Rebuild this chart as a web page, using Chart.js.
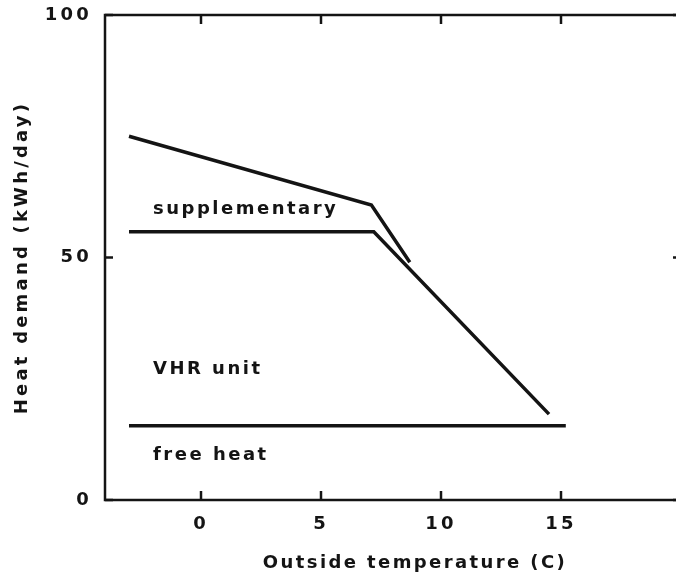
<!DOCTYPE html>
<html><head><meta charset="utf-8">
<script src="https://cdn.jsdelivr.net/npm/chart.js@4.4.0/dist/chart.umd.min.js"></script>
<style>html,body{margin:0;padding:0;background:#fff;overflow:hidden}#wrap{width:681px;height:575px;position:relative}</style>
</head><body><div id="wrap"><canvas id="c"></canvas></div>
<script>
// ---- data ----
const xTickValues = [0, 5, 10, 15];
const yTickValues = [0, 50, 100];
const totalTemp = [-3, 7.1, 8.7];
const totalDemand = [75, 60.8, 49];
const vhrTemp = [-3, 7.2, 14.5];
const vhrDemand = [55.3, 55.3, 17.7];
const freeTemp = [-3, 15.2];
const freeDemand = [15.3, 15.3];
const regionLabels = ['supplementary', 'VHR unit', 'free heat'];
const regionLabelTemp = [-2, -2, -2];
const regionLabelDemand = [60, 27, 9.3];
const xTitle = 'Outside temperature (C)';
const yTitle = 'Heat demand (kWh/day)';

// ---- style ----
const INK = '#141414';
const FONT = '"DejaVu Sans", sans-serif';
const pts = (xs, ys) => xs.map((v, i) => ({x: v, y: ys[i]}));

const spacing = {
  id: 'spacing',
  beforeDraw(chart) { chart.ctx.letterSpacing = '3.2px'; }
};

const frame = {
  id: 'frame',
  afterDatasetsDraw(chart) {
    const {ctx, chartArea: a, scales: {x, y}} = chart;
    ctx.save();
    ctx.strokeStyle = INK;
    ctx.lineWidth = 2.5;
    ctx.strokeRect(a.left, a.top, a.right - a.left, a.bottom - a.top);
    const seg = (x1, y1, x2, y2) => { ctx.beginPath(); ctx.moveTo(x1, y1); ctx.lineTo(x2, y2); ctx.stroke(); };
    xTickValues.forEach(v => {
      const px = x.getPixelForValue(v);
      seg(px, a.bottom, px, a.bottom - 9);
      seg(px, a.top, px, a.top + 9);
    });
    yTickValues.forEach(v => {
      const py = y.getPixelForValue(v);
      seg(a.left, py, a.left + 8, py);
      seg(a.right, py, a.right - 8, py);
    });
    // region labels
    ctx.fillStyle = INK;
    ctx.font = 'bold 18px ' + FONT;
    ctx.letterSpacing = '2.5px';
    ctx.textAlign = 'left';
    ctx.textBaseline = 'middle';
    regionLabels.forEach((t, i) => {
      ctx.fillText(t, x.getPixelForValue(regionLabelTemp[i]), y.getPixelForValue(regionLabelDemand[i]));
    });
    // x title
    ctx.letterSpacing = '2.4px';
    ctx.textAlign = 'center';
    ctx.fillText(xTitle, (a.left + a.right) / 2 + 22, 563);
    ctx.restore();
  }
};

new Chart(document.getElementById('c'), {
  type: 'line',
  data: {
    datasets: [
      {data: pts(totalTemp, totalDemand)},
      {data: pts(vhrTemp, vhrDemand)},
      {data: pts(freeTemp, freeDemand)}
    ].map(d => Object.assign(d, {borderColor: INK, borderWidth: 3.5, pointRadius: 0, tension: 0, fill: false}))
  },
  options: {
    responsive: true,
    maintainAspectRatio: false,
    animation: false,
    devicePixelRatio: 1,
    layout: {padding: {top: 15, right: 0, left: 0, bottom: 0}},
    plugins: {legend: {display: false}, tooltip: {enabled: false}},
    scales: {
      x: {
        type: 'linear', min: -4, max: 20,
        afterBuildTicks: s => { s.ticks = xTickValues.map(v => ({value: v})); },
        afterFit: s => { s.height = 75; s.paddingLeft = 0; s.paddingRight = 0; },
        grid: {display: false, drawTicks: false},
        border: {display: false},
        ticks: {color: INK, font: {family: FONT, size: 18, weight: 'bold'}, padding: 14, maxRotation: 0}
      },
      y: {
        type: 'linear', min: 0, max: 100,
        afterBuildTicks: s => { s.ticks = yTickValues.map(v => ({value: v})); },
        afterFit: s => { s.width = 105; s.paddingTop = 0; s.paddingBottom = 0; },
        grid: {display: false, drawTicks: false},
        border: {display: false},
        ticks: {color: INK, font: {family: FONT, size: 18, weight: 'bold'}, padding: 13},
        title: {display: true, text: yTitle, color: INK, font: {family: FONT, size: 18, weight: 'bold'}, padding: {top: 12, bottom: 0}}
      }
    }
  },
  plugins: [spacing, frame]
});
</script>
</body></html>
